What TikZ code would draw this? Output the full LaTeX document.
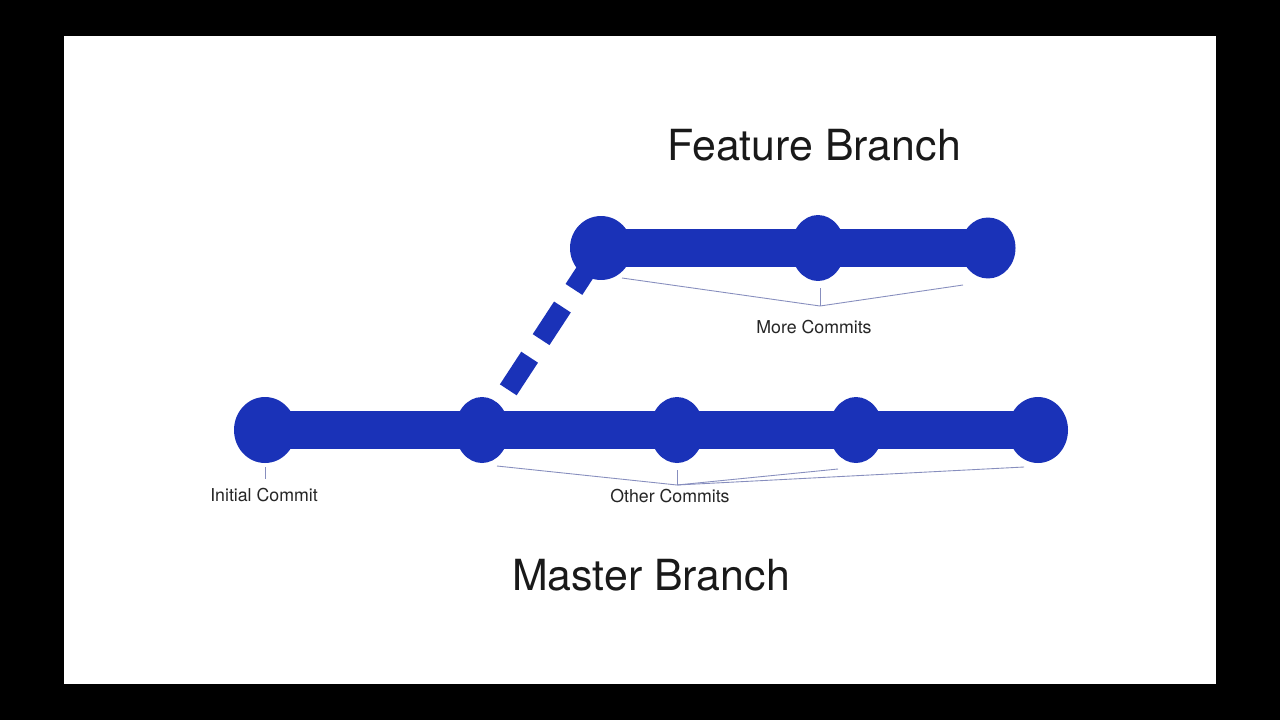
\documentclass[tikz,border=0pt]{standalone}
\usepackage{fontspec}
\setmainfont{TeX Gyre Heros}
\usetikzlibrary{shapes.geometric}
\definecolor{gitblue}{RGB}{26,50,184}
\definecolor{bracketgrey}{RGB}{135,142,190}
\tikzset{
  commit/.style={ellipse, fill=gitblue, inner sep=0pt, minimum width=1.08cm, minimum height=1.32cm},
  branch/.style={gitblue, line width=0.77cm},
  forkline/.style={gitblue, line width=0.4cm, dash pattern=on 0.78cm off 0.42cm, dash phase=0.24cm},
  bracket/.style={bracketgrey, line width=0.5pt},
  title/.style={font=\fontsize{24.4}{29}\selectfont, text=black!90},
  note/.style={font=\fontsize{10.1}{12}\selectfont, text=black!85}
}
\begin{document}
\begin{tikzpicture}[x=0.02cm, y=-0.02cm]
     \fill[black] (0,0) rectangle (1280,720);
     \fill[white] (64,36) rectangle (1216,684);
     \coordinate (M1) at (265,430);
     \coordinate (M2) at (482,430);
     \coordinate (M3) at (677,430);
     \coordinate (M4) at (856,430);
     \coordinate (M5) at (1038,430);
     \coordinate (F1) at (601,248);
     \coordinate (F2) at (818,248);
     \coordinate (F3) at (988,248);
     \draw[forkline] (M2) -- (F1);
     \draw[branch] (M1) -- (M5);
     \draw[branch] (F1) -- (F3);
     \node[commit, minimum width=1.24cm] (m1) at (M1) {};
     \node[commit] (m2) at (M2) {};
     \node[commit] (m3) at (M3) {};
     \node[commit] (m4) at (M4) {};
     \node[commit, minimum width=1.2cm] (m5) at (M5) {};
     \node[commit, minimum width=1.24cm, minimum height=1.28cm] (f1) at (F1) {};
     \node[commit] (f2) at (F2) {};
     \node[commit, minimum width=1.1cm, minimum height=1.22cm] (f3) at (F3) {};
     \node[title] (featureTitle) at (814,145) {Feature Branch};
     \node[title] (masterTitle) at (651,575) {Master Branch};
     \coordinate (moreA) at (622,278);
     \coordinate (moreB) at (963,285);
     \coordinate (moreTop) at (820,288);
     \coordinate (moreTip) at (820,306);
     \draw[bracket] (moreA) -- (moreTip) -- (moreB);
     \draw[bracket] (moreTop) -- (moreTip);
     \node[note] (moreLabel) at (814,327) {More Commits};
     \coordinate (initTop) at (265,467);
     \coordinate (initTip) at (265,479);
     \draw[bracket] (initTop) -- (initTip);
     \node[note] (initLabel) at (264,495) {Initial Commit};
     \coordinate (otherA) at (497,466);
     \coordinate (otherB) at (838,469);
     \coordinate (otherC) at (1024,467);
     \coordinate (otherTop) at (677,470);
     \coordinate (otherTip) at (677,485);
     \draw[bracket] (otherA) -- (otherTip) -- (otherB);
     \draw[bracket] (otherTip) -- (otherC);
     \draw[bracket] (otherTop) -- (otherTip);
     \node[note] (otherLabel) at (670,496) {Other Commits};
\end{tikzpicture}
\end{document}
